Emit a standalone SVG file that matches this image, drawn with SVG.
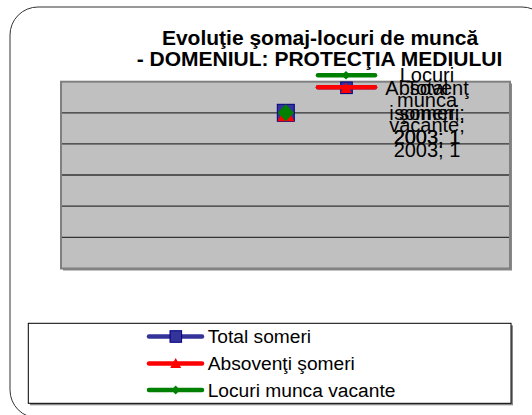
<svg xmlns="http://www.w3.org/2000/svg" width="532" height="415" viewBox="0 0 532 415">
<style>
.title{font-family:"Liberation Sans",Arial,sans-serif;font-weight:bold;font-size:21px;fill:#000;text-anchor:middle}
.lbl{font-family:"Liberation Sans",Arial,sans-serif;font-size:20px;fill:#000;text-anchor:middle}
.leg{font-family:"Liberation Sans",Arial,sans-serif;font-size:19.2px;fill:#000}
.grid{stroke:#333;stroke-width:1.3}
.sb{stroke:#333399;stroke-width:4.5;stroke-linecap:round}
.sr{stroke:#FF0000;stroke-width:4.5;stroke-linecap:round}
.sg{stroke:#008000;stroke-width:4.5;stroke-linecap:round}
.msq{fill:#333399;stroke:#000080;stroke-width:1}
.mtr{fill:#FF0000}
.mdi{fill:#008000}
</style>
<rect width="532" height="415" fill="#fff"/>
<g id="frame">
<rect x="10" y="7" width="540" height="411" rx="28" ry="28" fill="#fff" stroke="#333" stroke-width="1"/>
</g>
<g id="title">
<text class="title" x="320" y="44.5">Evoluţie şomaj-locuri de muncă</text>
<text class="title" x="319.5" y="66">- DOMENIUL: PROTECŢIA MEDIULUI</text>
</g>
<g id="plot">
<rect x="63" y="83.5" width="449" height="187" fill="#888"/>
<rect x="61" y="81.7" width="449" height="186.8" fill="#C0C0C0" stroke="#808080" stroke-width="2"/>
<line class="grid" x1="62" y1="112.8" x2="509" y2="112.8"/>
<line class="grid" x1="62" y1="143.9" x2="509" y2="143.9"/>
<line class="grid" x1="62" y1="175" x2="509" y2="175"/>
<line class="grid" x1="62" y1="206.2" x2="509" y2="206.2"/>
<line class="grid" x1="62" y1="237.3" x2="509" y2="237.3"/>
</g>
<g id="series">
<g id="point-total"><rect class="msq" x="277.3" y="104.3" width="17" height="17"/></g>
<g id="point-absolventi"><polygon class="mtr" points="285.8,105 294.3,121.3 277.3,121.3"/></g>
<g id="point-locuri"><polygon class="mdi" points="285.8,104.3 294,112.8 285.8,121.3 277.6,112.8"/></g>
</g>
<g id="data-labels">
<g id="key-locuri">
<line class="sg" x1="318" y1="75.3" x2="375" y2="75.3"/>
<polygon class="mdi" points="346,71 350.5,75.3 346,79.6 341.5,75.3"/>
</g>
<g id="key-total-absolventi">
<line class="sb" x1="318" y1="87.3" x2="375" y2="87.3"/>
<rect class="msq" x="340.7" y="82" width="11.6" height="11.6"/>
<line class="sr" x1="318" y1="87.3" x2="375" y2="87.3"/>
<polygon class="mtr" points="346,82.5 351.5,93 340.5,93"/>
</g>
<g id="label-locuri">
<text class="lbl" x="427" y="82">Locuri</text>
<text class="lbl" x="427" y="106.5">munca</text>
<text class="lbl" x="427" y="131.5">vacante;</text>
<text class="lbl" x="427" y="156.5">2003; 1</text>
</g>
<g id="label-total">
<text class="lbl" x="427" y="95">Total</text>
<text class="lbl" x="427" y="119.5">someri;</text>
<text class="lbl" x="427" y="144">2003; 1</text>
</g>
<g id="label-absolventi">
<text class="lbl" x="427" y="95">Absovenţ</text>
<text class="lbl" x="427" y="119.5">i şomeri;</text>
<text class="lbl" x="427" y="144">2003; 1</text>
</g>
</g>
<g id="legend">
<rect x="30" y="325.3" width="483" height="80" fill="#888"/>
<rect x="28.3" y="323.3" width="482.7" height="80" fill="#fff" stroke="#000" stroke-width="1"/>
<g id="legend-total">
<line class="sb" x1="149" y1="336.5" x2="202" y2="336.5"/>
<rect class="msq" x="170" y="330.7" width="11.6" height="11.6"/>
<text class="leg" x="207.7" y="343.3">Total someri</text>
</g>
<g id="legend-absolventi">
<line class="sr" x1="149" y1="363.5" x2="202" y2="363.5"/>
<polygon class="mtr" points="175.7,358 181.2,368 170.2,368"/>
<text class="leg" x="207.7" y="370">Absovenţi şomeri</text>
</g>
<g id="legend-locuri">
<line class="sg" x1="149" y1="390" x2="202" y2="390"/>
<polygon class="mdi" points="175.7,385.5 180,390 175.7,394.5 171.4,390"/>
<text class="leg" x="207.7" y="396.5">Locuri munca vacante</text>
</g>
</g>
</svg>
